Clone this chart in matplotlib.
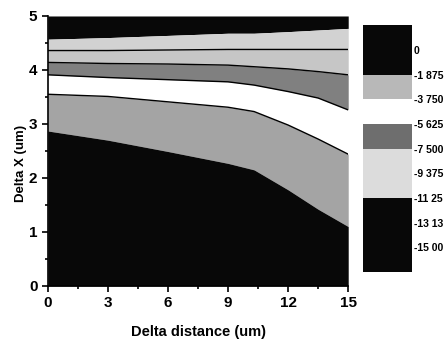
import matplotlib
matplotlib.use("Agg")
import matplotlib.pyplot as plt

# boundary lines between the contour bands
dist = [0, 3, 6, 9, 10.3, 12, 13.5, 15]
b1 = [4.57, 4.60, 4.64, 4.68, 4.68, 4.71, 4.74, 4.77]
b2 = [4.36, 4.36, 4.37, 4.38, 4.38, 4.38, 4.38, 4.38]
b3 = [4.14, 4.12, 4.11, 4.09, 4.06, 4.02, 3.97, 3.91]
b4 = [3.91, 3.86, 3.82, 3.78, 3.72, 3.60, 3.48, 3.26]
b5 = [3.55, 3.51, 3.41, 3.31, 3.23, 2.98, 2.72, 2.44]
b6 = [2.87, 2.70, 2.49, 2.27, 2.15, 1.78, 1.42, 1.10]

# colour scale
level_edges = [1.875, -1.875, -3.75, -5.625, -7.5, -11.25, -16.875]
level_colors = ["#080808", "#b8b8b8", "#ffffff", "#6e6e6e", "#dcdcdc", "#080808"]
tick_vals = [0, -1.875, -3.75, -5.625, -7.5, -9.375, -11.25, -13.13, -15.0]
tick_labels = ["0", "-1 875", "-3 750", "-5 625", "-7 500", "-9 375", "-11 25", "-13 13", "-15 00"]

plt.rcParams["font.family"] = ["Liberation Sans", "DejaVu Sans"]
plt.rcParams["font.weight"] = "bold"

fig = plt.figure(figsize=(4.47, 3.4), dpi=100)
ax = fig.add_axes([0.107, 0.159, 0.672, 0.794])

top = [5] * len(dist)
bottom = [0] * len(dist)
ax.fill_between(dist, b1, top, color="#080808", lw=0)
ax.fill_between(dist, b2, b1, color="#d2d2d2", lw=0)
ax.fill_between(dist, b3, b2, color="#c6c6c6", lw=0)
ax.fill_between(dist, b4, b3, color="#808080", lw=0)
ax.fill_between(dist, b5, b4, color="#ffffff", lw=0)
ax.fill_between(dist, b6, b5, color="#a4a4a4", lw=0)
ax.fill_between(dist, bottom, b6, color="#080808", lw=0)
for b in (b2, b3, b4, b5):
    ax.plot(dist, b, color="black", lw=1.0)

ax.set_xlim(0, 15)
ax.set_ylim(0, 5)
ax.set_xticks([0, 3, 6, 9, 12, 15])
ax.set_xticks([1.5, 4.5, 7.5, 10.5, 13.5], minor=True)
ax.set_yticks([0, 1, 2, 3, 4, 5])
ax.set_yticks([0.5, 1.5, 2.5, 3.5, 4.5], minor=True)
ax.tick_params(which="both", direction="out", labelsize=11, width=1.2)
ax.tick_params(which="major", length=4)
ax.tick_params(which="minor", length=2)
for side in ("top", "right"):
    ax.spines[side].set_visible(False)
for side in ("left", "bottom"):
    ax.spines[side].set_linewidth(1.2)
ax.set_xlabel("Delta distance (um)", fontsize=10.5, fontweight="bold")
ax.set_ylabel("Delta X (um)", fontsize=9.5, fontweight="bold")
ax.xaxis.set_label_coords(0.5, -0.144)
ax.yaxis.set_label_coords(-0.07, 0.452)

cax = fig.add_axes([0.812, 0.2, 0.11, 0.726])
for i, c in enumerate(level_colors):
    lo, hi = level_edges[i + 1], level_edges[i]
    cax.bar(0, hi - lo, bottom=lo, width=1, color=c, lw=0)
cax.set_xlim(-0.5, 0.5)
cax.set_ylim(level_edges[-1], level_edges[0])
cax.set_xticks([])
cax.yaxis.tick_right()
cax.set_yticks(tick_vals)
cax.set_yticklabels(tick_labels)
cax.tick_params(axis="y", length=0, labelsize=7.5, pad=1)
for s in cax.spines.values():
    s.set_visible(False)

fig.savefig("out.png", dpi=100)
